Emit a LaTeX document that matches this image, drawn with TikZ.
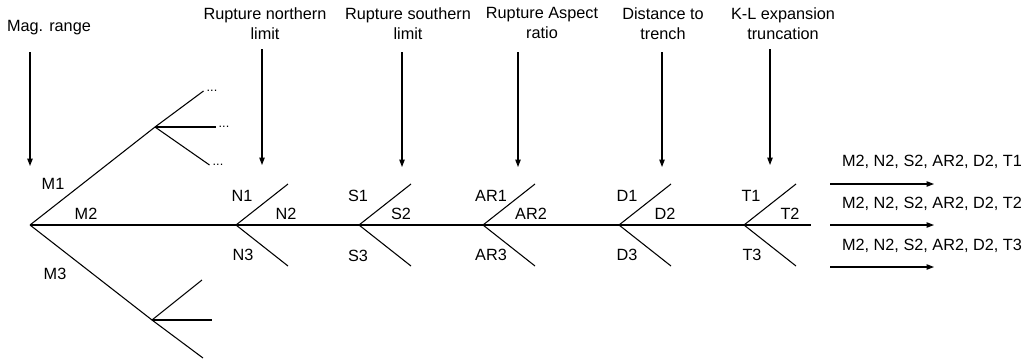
\documentclass[tikz,border=0pt]{standalone}
\usepackage{fontspec}
\setmainfont{Liberation Sans}
\usetikzlibrary{arrows.meta}

\begin{document}
\begin{tikzpicture}[x=0.75pt,y=-0.75pt,line width=0.8pt,
  every node/.style={font=\fontsize{12.2}{15}\selectfont,inner sep=0pt},
  lbl/.style={anchor=base},
  head/.style={anchor=north,align=center},
  more/.style={inner sep=2pt,font=\fontsize{9.5}{10}\selectfont},
  arr/.style={-{Triangle[length=5.5pt,width=4pt]}}]
\useasboundingbox (0,0) rectangle (1027,362);

% magnitude branches
\coordinate (m) at (30,225);
\coordinate (m1) at (155,127);
\coordinate (m3) at (152,320);
\coordinate (m3a) at (202,280);
\coordinate (m3b) at (212,320);
\coordinate (m3c) at (203,358);
\node[more] (dotsA) at (212,91) {...};
\node[more] (dotsB) at (224,127) {...};
\node[more] (dotsC) at (218,165) {...};
\draw (m) -- (m1) -- (dotsA.west);
\draw (m1) -- (dotsB.west);
\draw (m1) -- (dotsC.west);
\draw (m) -- (m3) -- (m3a);
\draw (m3) -- (m3b);
\draw (m3) -- (m3c);

% forks along the main line
\coordinate (n) at (236,225);
\coordinate (s) at (359,225);
\coordinate (ar) at (483,225);
\coordinate (d) at (619,225);
\coordinate (t) at (744,225);
\coordinate (tend) at (811,225);
\draw (m) -- (n) -- (s) -- (ar) -- (d) -- (t) -- (tend);
\draw (288,184) -- (n) -- (288,266);
\draw (411,184) -- (s) -- (411,266);
\draw (535,184) -- (ar) -- (535,266);
\draw (671,184) -- (d) -- (671,266);
\draw (796,184) -- (t) -- (796,266);

\node[lbl] (lM1) at (53,189) {M1};
\node[lbl] (lM2) at (86,219) {M2};
\node[lbl] (lM3) at (55,279) {M3};
\node[lbl] (lN1) at (242,201) {N1};
\node[lbl] (lN2) at (286,219) {N2};
\node[lbl] (lN3) at (243,260) {N3};
\node[lbl] (lS1) at (358,201) {S1};
\node[lbl] (lS2) at (401,219) {S2};
\node[lbl] (lS3) at (358,261) {S3};
\node[lbl] (lAR1) at (491,201) {AR1};
\node[lbl] (lAR2) at (531,219) {AR2};
\node[lbl] (lAR3) at (491,260) {AR3};
\node[lbl] (lD1) at (627,201) {D1};
\node[lbl] (lD2) at (665,219) {D2};
\node[lbl] (lD3) at (627,260) {D3};
\node[lbl] (lT1) at (751,201) {T1};
\node[lbl] (lT2) at (790,219) {T2};
\node[lbl] (lT3) at (752,260) {T3};

% parameter headings and their arrows
\node[lbl] (hM) at (49,31) {Mag. range};
\node[head] (hN) at (265,7) {Rupture northern\\limit};
\node[head] (hS) at (408,7) {Rupture southern\\limit};
\node[head] (hAR) at (542,7) {Rupture Aspect\\ratio};
\node[head] (hD) at (663,7) {Distance to\\trench};
\node[head] (hT) at (783,7) {K-L expansion\\truncation};
\coordinate (aM0) at (30,52);   \coordinate (aM1) at (30,166);
\coordinate (aN0) at (262,49);  \coordinate (aN1) at (262,165);
\coordinate (aS0) at (402,52);  \coordinate (aS1) at (402,167);
\coordinate (aAR0) at (518,52); \coordinate (aAR1) at (518,167);
\coordinate (aD0) at (662,52);  \coordinate (aD1) at (662,167);
\coordinate (aT0) at (770,49);  \coordinate (aT1) at (770,165);
\draw[arr] (aM0) -- (aM1);
\draw[arr] (aN0) -- (aN1);
\draw[arr] (aS0) -- (aS1);
\draw[arr] (aAR0) -- (aAR1);
\draw[arr] (aD0) -- (aD1);
\draw[arr] (aT0) -- (aT1);

% resulting combinations
\node[lbl] (out1) at (932,166) {M2, N2, S2, AR2, D2, T1};
\node[lbl] (out2) at (932,208) {M2, N2, S2, AR2, D2, T2};
\node[lbl] (out3) at (932,250) {M2, N2, S2, AR2, D2, T3};
\coordinate (o1a) at (830,184); \coordinate (o1b) at (934,184);
\coordinate (o2a) at (830,225); \coordinate (o2b) at (934,225);
\coordinate (o3a) at (830,267); \coordinate (o3b) at (934,267);
\draw[arr] (o1a) -- (o1b);
\draw[arr] (o2a) -- (o2b);
\draw[arr] (o3a) -- (o3b);
\end{tikzpicture}
\end{document}
